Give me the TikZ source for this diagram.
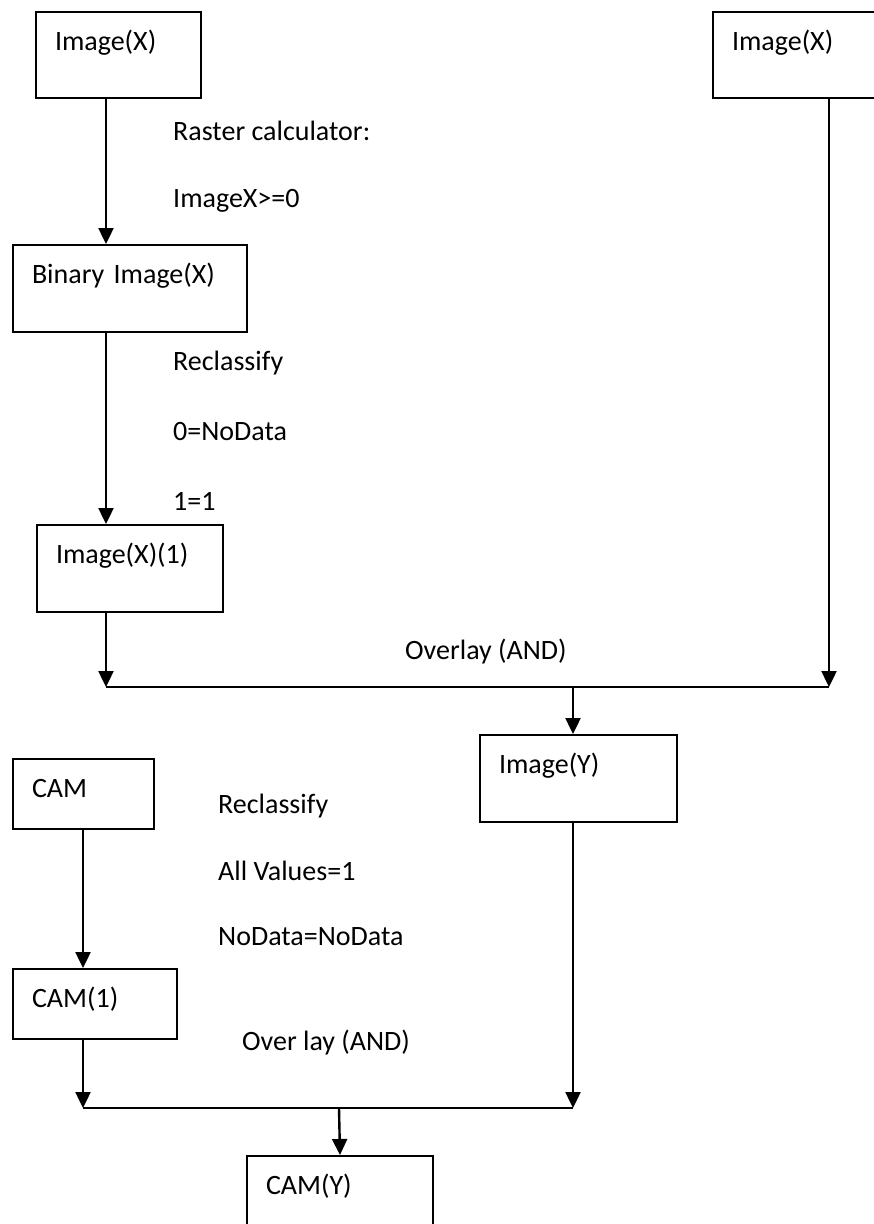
\documentclass[tikz,border=0pt]{standalone}
\usepackage{fontspec}
\setmainfont{Carlito}
\usepackage{tikz}
\usetikzlibrary{arrows.meta,positioning}
\tikzstyle{box}=[draw,line width=2pt,anchor=north west,inner xsep=19pt,inner ysep=0pt,text height=38pt,align=left,font=\fontsize{28}{34}\selectfont]
\tikzstyle{lbl}=[anchor=base west,inner sep=0pt,font=\fontsize{28}{34}\selectfont]
\tikzstyle{arr}=[line width=2.4pt,-{Triangle[width=15pt,length=16pt]}]
\tikzstyle{bar}=[line width=2pt]

\begin{document}
\begin{tikzpicture}[x=1pt,y=-1pt]
\clip (0,0) rectangle (874,1224);

% boxes
\node[box,text width=127pt,text depth=48pt] (imgx) at (35,11) {Image(X)};
\node[box,text width=150pt,text depth=48pt] (imgxr) at (712,11) {Image(X)};
\node[box,text width=196pt,text depth=49pt] (binx) at (12,244) {Binary Image(X)};
\node[box,text width=148pt,text depth=49pt] (imgx1) at (36,524) {Image(X)(1)};
\node[box,text width=159pt,text depth=49pt] (imgy) at (479,734) {Image(Y)};
\node[box,text width=103pt,text depth=32pt] (cam) at (12,758) {CAM};
\node[box,text width=126pt,text depth=32pt] (cam1) at (12,968) {CAM(1)};
\node[box,text width=148pt,text depth=49pt] (camy) at (246,1155) {CAM(Y)};

% labels
\node[lbl] (rc) at (173,140) {Raster calculator:};
\node[lbl] (rcx) at (173,207) {ImageX>=0};
\node[lbl] (rcl) at (173,370) {Reclassify};
\node[lbl] (rcl0) at (173,440) {0=NoData};
\node[lbl] (rcl1) at (173,510) {1=1};
\node[lbl] (ova) at (405,659) {Overlay (AND)};
\node[lbl] (rcc) at (218,813) {Reclassify};
\node[lbl] (rcca) at (218,880) {All Values=1};
\node[lbl] (rccn) at (218,945) {NoData=NoData};
\node[lbl] (ovb) at (242,1050) {Over lay (AND)};

% columns and joins
\coordinate (xa) at (106,0);
\coordinate (xb) at (829,0);
\coordinate (xc) at (83,0);
\coordinate (ja) at (573,687);
\coordinate (jb) at (339,1108);

\draw[arr] (imgx.south -| xa) -- (binx.north -| xa);
\draw[arr] (binx.south -| xa) -- (imgx1.north -| xa);
\draw[arr] (imgx1.south -| xa) -- (ja -| xa);
\draw[arr] (imgxr.south -| xb) -- (ja -| xb);
\draw[bar] (ja -| xa) -- (ja -| xb);
\draw[arr] (ja) -- (imgy.north -| ja);

\draw[arr] (cam.south -| xc) -- (cam1.north -| xc);
\draw[arr] (cam1.south -| xc) -- (jb -| xc);
\draw[arr] (imgy.south -| ja) -- (jb -| ja);
\draw[bar] (jb -| xc) -- (jb -| ja);
\draw[arr] (jb) -- (camy.north);
\end{tikzpicture}
\end{document}
